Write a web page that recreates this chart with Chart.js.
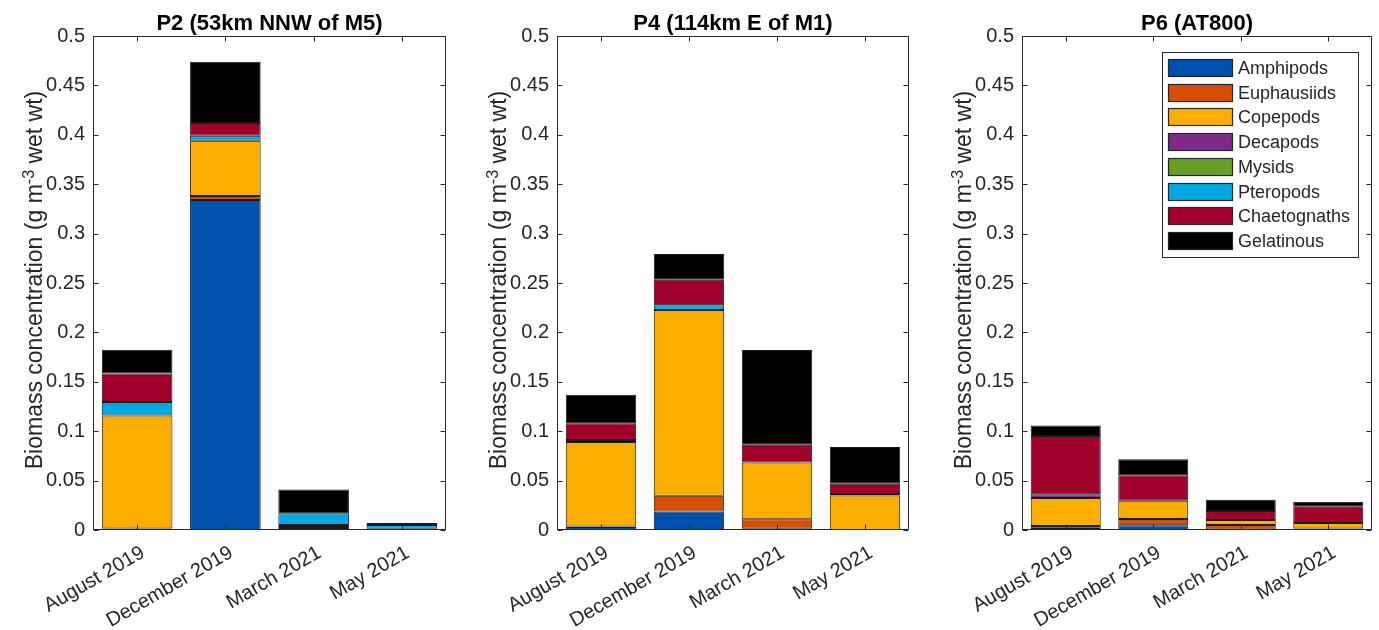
<!DOCTYPE html>
<html>
<head>
<meta charset="utf-8">
<script src="https://cdn.jsdelivr.net/npm/chart.js@4.4.1/dist/chart.umd.min.js"></script>
<style>
  html, body { margin: 0; padding: 0; background: #ffffff; }
  #wrap { position: relative; width: 1379px; height: 630px; overflow: hidden; }
  canvas { position: absolute; top: 0; }
</style>
</head>
<body>
<div id="wrap">
  <canvas id="p2" width="460" height="630" style="left:0px"></canvas>
  <canvas id="p4" width="460" height="630" style="left:464px"></canvas>
  <canvas id="p6" width="450" height="630" style="left:929px"></canvas>
</div>
<script>
// Sampling campaigns (x categories)
const months = ['August 2019', 'December 2019', 'March 2021', 'May 2021'];

// Taxonomic groups, stacked bottom to top
const taxa = ['Amphipods', 'Euphausiids', 'Copepods', 'Decapods', 'Mysids', 'Pteropods', 'Chaetognaths', 'Gelatinous'];

// Y axis ticks
const yTickValues = [0, 0.05, 0.1, 0.15, 0.2, 0.25, 0.3, 0.35, 0.4, 0.45, 0.5];
const yTickLabels = ['0', '0.05', '0.1', '0.15', '0.2', '0.25', '0.3', '0.35', '0.4', '0.45', '0.5'];

// Station P2 (53km NNW of M5), biomass in g m^-3 wet wt
const p2Amphipods    = [0.001,  0.334,  0.002,  0.001];
const p2Euphausiids  = [0.0005, 0.004,  0.001,  0];
const p2Copepods     = [0.1145, 0.056,  0.002,  0.0003];
const p2Decapods     = [0,      0,      0,      0];
const p2Mysids       = [0,      0,      0,      0];
const p2Pteropods    = [0.0135, 0.005,  0.012,  0.0037];
const p2Chaetognaths = [0.029,  0.013,  0,      0];
const p2Gelatinous   = [0.024,  0.062,  0.024,  0.0021];

// Station P4 (114km E of M1)
const p4Amphipods    = [0.003,  0.0186, 0.0013, 0];
const p4Euphausiids  = [0.0005, 0.016,  0.0095, 0];
const p4Copepods     = [0.0855, 0.188,  0.0575, 0.035];
const p4Decapods     = [0,      0,      0,      0];
const p4Mysids       = [0,      0,      0,      0];
const p4Pteropods    = [0.002,  0.005,  0,      0.0015];
const p4Chaetognaths = [0.017,  0.0257, 0.018,  0.0103];
const p4Gelatinous   = [0.029,  0.026,  0.096,  0.0372];

// Station P6 (AT800)
const p6Amphipods    = [0.001,  0.0047, 0.0005, 0.0005];
const p6Euphausiids  = [0.003,  0.0065, 0.0046, 0.001];
const p6Copepods     = [0.0285, 0.0185, 0.005,  0.0056];
const p6Decapods     = [0.0037, 0,      0,      0];
const p6Mysids       = [0,      0,      0,      0];
const p6Pteropods    = [0,      0,      0,      0];
const p6Chaetognaths = [0.059,  0.0258, 0.0092, 0.0165];
const p6Gelatinous   = [0.0105, 0.0162, 0.0114, 0.0051];

// Fill colours per taxon
const taxonColors = ['#0050ae', '#d64f00', '#fcae00', '#7d2b86', '#6a9f27', '#00a9e4', '#a00029', '#000000'];

const FONT = "'Liberation Sans', Arial, Helvetica, sans-serif";
const INK = '#262626';
Chart.defaults.font.family = FONT;
Chart.defaults.color = INK;

// Boxed axes with inward ticks on all four sides, title, y label and legend
const matlabFrame = {
  id: 'matlabFrame',
  afterDatasetsDraw(chart, args, opts) {
    const { ctx, chartArea: a, scales: { x, y } } = chart;
    const L = Math.round(a.left) + 0.5, R = Math.round(a.right) - 0.5;
    const T = Math.round(a.top) + 0.5, B = Math.round(a.bottom) - 0.5;
    const tl = 5;
    ctx.save();
    ctx.strokeStyle = INK;
    ctx.lineWidth = 1;
    ctx.beginPath();
    ctx.rect(L, T, R - L, B - T);
    y.ticks.forEach(t => {
      const py = Math.round(y.getPixelForValue(t.value)) + 0.5;
      ctx.moveTo(L, py); ctx.lineTo(L + tl, py);
      ctx.moveTo(R, py); ctx.lineTo(R - tl, py);
    });
    x.ticks.forEach((t, i) => {
      const px = Math.round(x.getPixelForValue(i)) + 0.5;
      ctx.moveTo(px, T); ctx.lineTo(px, T + tl);
      ctx.moveTo(px, B); ctx.lineTo(px, B - tl);
    });
    ctx.stroke();

    // panel title
    ctx.fillStyle = '#000';
    ctx.font = 'bold 22px ' + FONT;
    ctx.textAlign = 'center';
    ctx.textBaseline = 'alphabetic';
    ctx.fillText(opts.title, (a.left + a.right) / 2, 29.5);

    // y axis label with superscript exponent
    const p1 = 'Biomass concentration (g m', sup = '-3', p2 = ' wet wt)';
    const big = '23px ' + FONT, small = '16px ' + FONT;
    ctx.font = big; const w1 = ctx.measureText(p1).width, w3 = ctx.measureText(p2).width;
    ctx.font = small; const w2 = ctx.measureText(sup).width;
    const total = w1 + w2 + w3;
    ctx.save();
    ctx.translate(a.left - 51, (a.top + a.bottom) / 2 - 3);
    ctx.rotate(-Math.PI / 2);
    ctx.fillStyle = INK;
    ctx.textAlign = 'left';
    let cx = -total / 2;
    ctx.font = big; ctx.fillText(p1, cx, 0); cx += w1;
    ctx.font = small; ctx.fillText(sup, cx, -8.5); cx += w2;
    ctx.font = big; ctx.fillText(p2, cx, 0);
    ctx.restore();

    // legend
    if (opts.showLegend) {
      const bw = 196, bh = 205;
      const bx = Math.round(a.right - 14 - bw), by = Math.round(a.top + 16);
      ctx.fillStyle = '#ffffff';
      ctx.fillRect(bx, by, bw, bh);
      ctx.strokeStyle = INK;
      ctx.strokeRect(bx + 0.5, by + 0.5, bw, bh);
      ctx.font = '18px ' + FONT;
      ctx.textAlign = 'left';
      ctx.textBaseline = 'middle';
      chart.data.datasets.forEach((ds, k) => {
        const sy = Math.round(by + 7 + k * 24.7);
        ctx.fillStyle = ds.backgroundColor;
        ctx.fillRect(bx + 6, sy, 65, 18);
        ctx.strokeStyle = INK;
        ctx.lineWidth = 1.2;
        ctx.strokeRect(bx + 6.5, sy + 0.5, 64, 17);
        ctx.fillStyle = INK;
        ctx.fillText(ds.label, bx + 76, sy + 10);
      });
    }
    ctx.restore();
  }
};

function buildPanel(id, title, series, showLegend, rightPad) {
  return new Chart(document.getElementById(id), {
    type: 'bar',
    data: {
      labels: months,
      datasets: taxa.map((name, k) => ({
        label: name,
        data: series[k],
        backgroundColor: taxonColors[k],
        borderColor: '#1a1a1a',
        borderWidth: 1,
        borderSkipped: false,
        barPercentage: 0.8,
        categoryPercentage: 1.0
      }))
    },
    options: {
      responsive: false,
      animation: false,
      devicePixelRatio: 1,
      layout: { padding: { top: 36, left: 0, right: rightPad, bottom: 0 } },
      plugins: {
        legend: { display: false },
        title: { display: false },
        tooltip: { enabled: false },
        matlabFrame: { title: title, showLegend: showLegend }
      },
      scales: {
        x: {
          stacked: true,
          grid: { display: false, drawTicks: false },
          border: { display: false },
          ticks: { font: { size: 20 }, color: INK, minRotation: 30, maxRotation: 30, autoSkip: false, padding: 11, labelOffset: 6 },
          afterFit: s => { s.height = 100; }
        },
        y: {
          stacked: true,
          min: 0,
          max: 0.5,
          grid: { display: false, drawTicks: false },
          border: { display: false },
          ticks: { font: { size: 20 }, color: INK, padding: 8, callback: (v, i) => yTickLabels[i] },
          afterBuildTicks: s => { s.ticks = yTickValues.map(v => ({ value: v })); },
          afterFit: s => { s.width = 93; }
        }
      }
    },
    plugins: [matlabFrame]
  });
}

buildPanel('p2', 'P2 (53km NNW of M5)',
  [p2Amphipods, p2Euphausiids, p2Copepods, p2Decapods, p2Mysids, p2Pteropods, p2Chaetognaths, p2Gelatinous], false, 14);
buildPanel('p4', 'P4 (114km E of M1)',
  [p4Amphipods, p4Euphausiids, p4Copepods, p4Decapods, p4Mysids, p4Pteropods, p4Chaetognaths, p4Gelatinous], false, 15);
buildPanel('p6', 'P6 (AT800)',
  [p6Amphipods, p6Euphausiids, p6Copepods, p6Decapods, p6Mysids, p6Pteropods, p6Chaetognaths, p6Gelatinous], true, 7);
</script>
</body>
</html>
